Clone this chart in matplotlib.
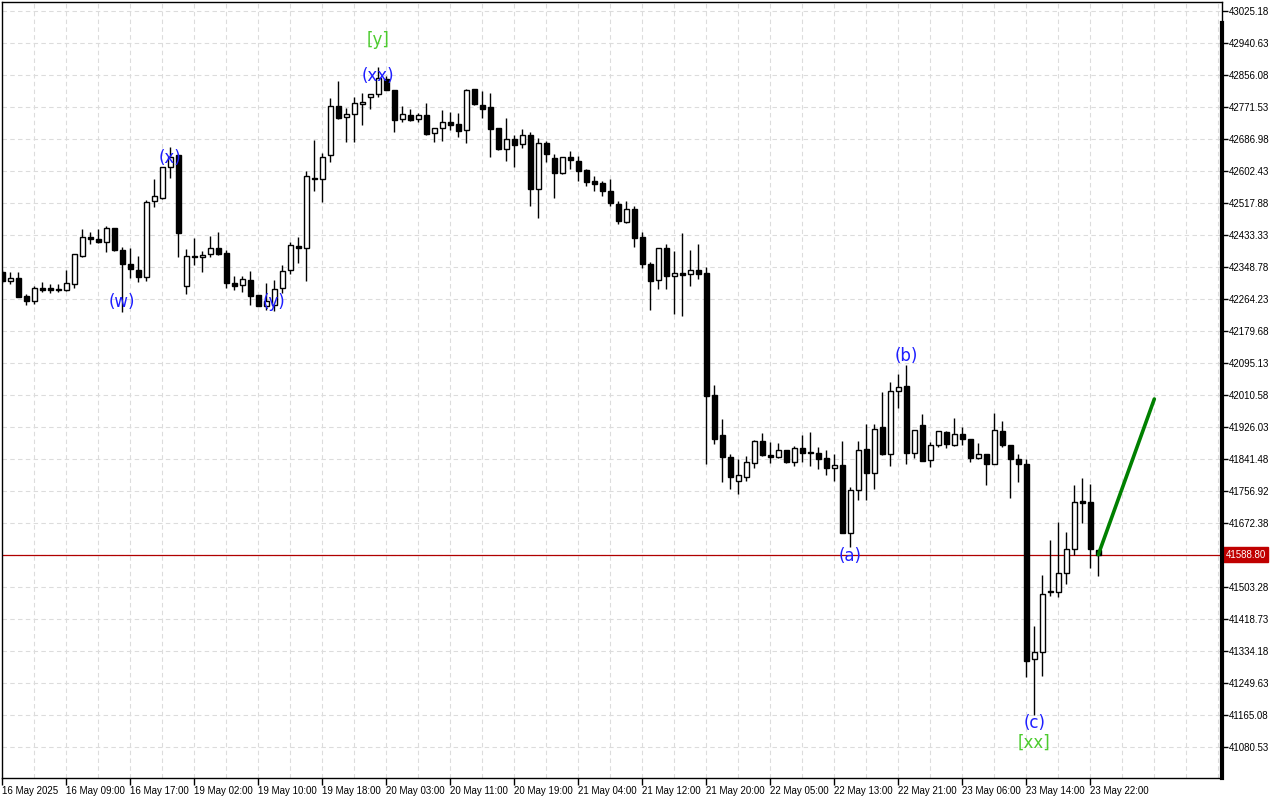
import matplotlib
matplotlib.use('Agg')
import matplotlib.pyplot as plt
import numpy as np

# hourly candles, 16 May 01:00 -> 23 May 22:00
opens = [42336, 42311, 42320, 42272, 42260, 42293, 42292, 42290, 42289, 42305,
         42379, 42428, 42423, 42415, 42451, 42394, 42356, 42341, 42322, 42522,
         42532, 42612, 42645, 42299, 42378, 42374, 42382, 42398, 42385, 42306,
         42300, 42314, 42275, 42247, 42248, 42294, 42340, 42404, 42400, 42584,
         42581, 42644, 42773, 42744, 42752, 42779, 42797, 42805, 42846, 42816,
         42739, 42750, 42739, 42750, 42702, 42715, 42732, 42727, 42710, 42819,
         42777, 42771, 42715, 42660, 42686, 42673, 42697, 42554, 42676, 42636,
         42596, 42639, 42628, 42604, 42575, 42570, 42549, 42515, 42467, 42501,
         42428, 42356, 42314, 42398, 42324, 42333, 42330, 42340, 42332, 42011,
         41905, 41846, 41783, 41795, 41830, 41889, 41852, 41848, 41865, 41834,
         41870, 41859, 41857, 41843, 41819, 41825, 41647, 41760, 41867, 41804,
         41925, 41854, 42020, 42034, 41856, 41931, 41838, 41878, 41914, 41879,
         41907, 41894, 41843, 41854, 41828, 41916, 41878, 41842, 41828, 41312,
         41331, 41493, 41489, 41541, 41603, 41731, 41727, 41600]
highs = [42341, 42335, 42335, 42277, 42299, 42308, 42304, 42304, 42341, 42382,
         42449, 42441, 42448, 42458, 42452, 42402, 42398, 42378, 42525, 42581,
         42613, 42665, 42645, 42396, 42425, 42391, 42431, 42441, 42394, 42325,
         42325, 42337, 42276, 42306, 42314, 42354, 42416, 42427, 42602, 42684,
         42649, 42795, 42840, 42768, 42797, 42808, 42806, 42878, 42853, 42817,
         42774, 42766, 42755, 42781, 42715, 42764, 42758, 42755, 42819, 42820,
         42813, 42808, 42716, 42742, 42697, 42713, 42706, 42689, 42682, 42647,
         42639, 42655, 42642, 42608, 42588, 42575, 42581, 42522, 42523, 42509,
         42441, 42361, 42400, 42409, 42390, 42438, 42394, 42410, 42350, 42037,
         41947, 41855, 41842, 41849, 41892, 41910, 41886, 41883, 41866, 41876,
         41905, 41912, 41872, 41865, 41855, 41889, 41767, 41890, 41934, 41934,
         42019, 42046, 42066, 42090, 41918, 41960, 41886, 41916, 41916, 41950,
         41925, 41895, 41883, 41855, 41962, 41942, 41879, 41855, 41842, 41400,
         41535, 41628, 41674, 41648, 41773, 41791, 41775, 41601]
lows = [42306, 42304, 42269, 42249, 42251, 42282, 42281, 42283, 42286, 42294,
        42376, 42409, 42411, 42389, 42392, 42231, 42320, 42310, 42313, 42508,
        42528, 42583, 42376, 42277, 42354, 42336, 42376, 42381, 42294, 42288,
        42284, 42248, 42246, 42235, 42233, 42279, 42330, 42360, 42313, 42550,
        42521, 42627, 42741, 42680, 42680, 42724, 42767, 42799, 42816, 42706,
        42733, 42735, 42733, 42698, 42680, 42683, 42711, 42693, 42676, 42778,
        42743, 42639, 42658, 42630, 42614, 42664, 42510, 42479, 42627, 42530,
        42594, 42607, 42577, 42564, 42550, 42536, 42511, 42463, 42466, 42402,
        42345, 42236, 42291, 42291, 42225, 42220, 42299, 42317, 41828, 41882,
        41782, 41762, 41748, 41784, 41819, 41850, 41832, 41845, 41830, 41824,
        41834, 41824, 41816, 41800, 41784, 41646, 41610, 41733, 41733, 41761,
        41853, 41824, 41975, 41828, 41843, 41836, 41821, 41874, 41871, 41877,
        41878, 41833, 41842, 41774, 41827, 41874, 41738, 41782, 41265, 41165,
        41269, 41480, 41478, 41510, 41588, 41673, 41554, 41533]
closes = [42312, 42319, 42270, 42260, 42293, 42289, 42288, 42288, 42306, 42382,
          42427, 42422, 42414, 42451, 42393, 42356, 42343, 42322, 42521, 42536,
          42612, 42640, 42439, 42377, 42375, 42381, 42398, 42384, 42306, 42299,
          42316, 42272, 42247, 42258, 42291, 42337, 42406, 42400, 42589, 42582,
          42640, 42773, 42743, 42752, 42781, 42785, 42806, 42847, 42817, 42737,
          42752, 42738, 42750, 42700, 42715, 42731, 42725, 42709, 42816, 42779,
          42767, 42714, 42661, 42686, 42670, 42697, 42554, 42676, 42647, 42596,
          42639, 42631, 42603, 42574, 42569, 42549, 42517, 42470, 42501, 42425,
          42358, 42313, 42398, 42324, 42332, 42328, 42340, 42331, 42009, 41895,
          41848, 41795, 41798, 41833, 41889, 41853, 41848, 41865, 41834, 41870,
          41858, 41856, 41842, 41819, 41825, 41647, 41760, 41865, 41804, 41920,
          41854, 42020, 42033, 41857, 41917, 41837, 41878, 41915, 41880, 41907,
          41894, 41844, 41854, 41829, 41917, 41878, 41841, 41828, 41309, 41331,
          41484, 41489, 41541, 41603, 41727, 41726, 41603, 41588.8]

last_price = 41588.80
forecast_bars = [137, 144]
forecast_prices = [41588.8, 42000.0]

x_labels = ['16 May 2025', '16 May 09:00', '16 May 17:00', '19 May 02:00', '19 May 10:00',
            '19 May 18:00', '20 May 03:00', '20 May 11:00', '20 May 19:00', '21 May 04:00',
            '21 May 12:00', '21 May 20:00', '22 May 05:00', '22 May 13:00', '22 May 21:00',
            '23 May 06:00', '23 May 14:00', '23 May 22:00']
y_ticks = [43025.18, 42940.63, 42856.08, 42771.53, 42686.98, 42602.43, 42517.88,
           42433.33, 42348.78, 42264.23, 42179.68, 42095.13, 42010.58, 41926.03,
           41841.48, 41756.92, 41672.38, 41503.28, 41418.73, 41334.18, 41249.63,
           41165.08, 41080.53]
grid_prices = y_ticks + [41587.83]

# wave labels: (text, bar, price, colour)
wave_labels = [('[y]', 47, 42949, '#4CCB2E'), ('(xx)', 47, 42853, '#1E1EFF'),
               ('(x)', 21, 42636, '#1E1EFF'), ('(w)', 15, 42256, '#1E1EFF'),
               ('(y)', 34, 42256, '#1E1EFF'), ('(b)', 113, 42114, '#1E1EFF'),
               ('(a)', 106, 41585, '#1E1EFF'), ('(c)', 129, 41144, '#1E1EFF'),
               ('[xx]', 129, 41091, '#4CCB2E')]

o = np.array(opens, dtype=float)
h = np.array(highs, dtype=float)
l = np.array(lows, dtype=float)
c = np.array(closes, dtype=float)
idx = np.arange(len(o))

fig = plt.figure(figsize=(12.8, 8), dpi=100)
ax = fig.add_axes([2 / 1280, 22 / 800, 1220 / 1280, 776 / 800])

ax.set_xlim(-0.04, 152.46)
ax.set_ylim(40998.6, 43048.96)

# dashed grid
for gp in grid_prices:
    ax.axhline(gp, color='#dcdcdc', lw=0.8, ls=(0, (4, 3)), zorder=0)
for gx in range(4, 153, 4):
    ax.axvline(gx, color='#dcdcdc', lw=0.8, ls=(0, (4, 3)), zorder=0)

# candles
ax.vlines(idx, l, h, color='black', lw=1, zorder=2)
up = c >= o
ax.bar(idx[up], c[up] - o[up], bottom=o[up], width=0.6, color='white',
       edgecolor='black', linewidth=1, zorder=3)
ax.bar(idx[~up], o[~up] - c[~up], bottom=c[~up], width=0.6, color='black',
       edgecolor='black', linewidth=1, zorder=3)

# last price line
ax.axhline(last_price, color='#B00000', lw=0.9, zorder=1)

# forecast
ax.plot(forecast_bars, forecast_prices, color='#008000', lw=2.6,
        solid_capstyle='round', zorder=4)

for txt, b, p, col in wave_labels:
    ax.text(b, p, txt, color=col, fontsize=12, ha='center', va='center', zorder=5)

# axes styling, MT5 look
tick_font = 'Liberation Sans'
ax.yaxis.tick_right()
ax.set_yticks(y_ticks)
ax.set_yticklabels([f'{v:.2f}' for v in y_ticks], family=tick_font)
ax.set_xticks(np.arange(0, len(x_labels) * 8, 8))
ax.set_xticklabels(x_labels, ha='left', family=tick_font)
ax.tick_params(axis='y', length=4, width=1, pad=1, labelsize=7, direction='out')
ax.tick_params(axis='x', length=5, width=1, pad=1, labelsize=7, direction='out')
for s in ax.spines.values():
    s.set_linewidth(1)
ax.plot([1, 1], [0, 0.973], transform=ax.transAxes, color='black', lw=3,
        clip_on=False, zorder=6)

ax.text(1.003, last_price, f'{last_price:.2f}', transform=ax.get_yaxis_transform(),
        color='white', fontsize=7, family=tick_font, ha='left', va='center',
        bbox=dict(boxstyle='square,pad=0.25', fc='#C00000', ec='#C00000'), clip_on=False)

fig.savefig('out.png', dpi=100)
